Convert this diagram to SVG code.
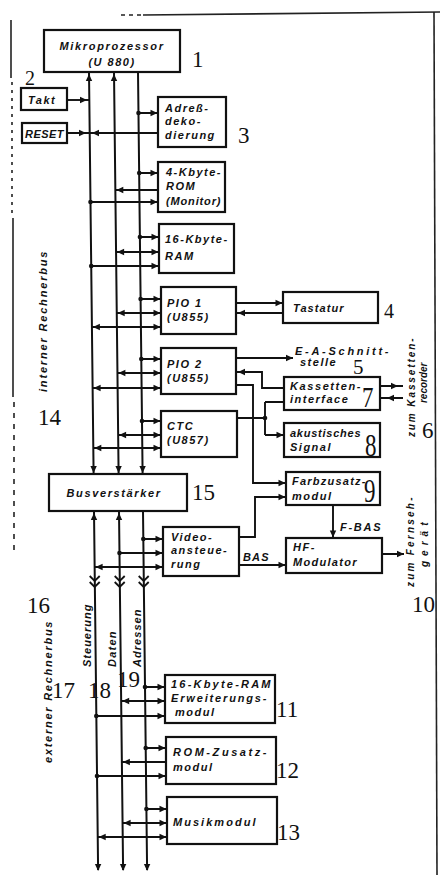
<svg xmlns="http://www.w3.org/2000/svg" width="445" height="875" viewBox="0 0 445 875">
<style>
 .bg{fill:#fff}
 .box{fill:#fff;stroke:#111;stroke-width:2.2}
 .ln{fill:none;stroke:#111;stroke-width:1.9}
 .bus{fill:none;stroke:#111;stroke-width:2}
 .ah{fill:#111}
 .dot{fill:#111}
 .t{font-family:"Liberation Sans",Arial,sans-serif;font-style:italic;font-weight:bold;font-size:11px;letter-spacing:1.5px;fill:#111}
 .s{font-size:10px;letter-spacing:0.5px}
 .n{font-family:"Liberation Serif","Times New Roman",serif;font-size:23px;fill:#111}
 .frame{fill:none;stroke:#222;stroke-width:1.6}
</style>
<defs>
 <path id="a" d="M0,0 L-7,-3.2 L-7,3.2 Z"/>
 <path id="chev" d="M-5,0 L0,5 L5,0 M-5,6 L0,11 L5,6" fill="none" stroke="#111" stroke-width="1.8"/>
</defs>
<rect class="bg" width="445" height="875"/>

<g id="page-frame">
 <path class="frame" d="M121,15 H141" stroke-dasharray="4 4"/>
 <path class="frame" d="M143,15 L440,12"/>
 <path class="frame" d="M434,12 L437,875"/>
 <path class="frame" d="M11,20 V78"/>
 <path class="frame" d="M12,82 V215" stroke-dasharray="3 5"/>
 <path class="frame" d="M13,218 V397"/>
 <path class="frame" d="M14,402 V555" stroke-dasharray="5 6"/>
</g>

<g id="connectors">
 <!-- internal bus -->
 <path class="bus" d="M89,72 L93.6,474 M114,72 L118.6,474 M138,72 L142.6,474"/>
 <!-- external bus -->
 <path class="bus" d="M94,511 L98.1,870 M119,511 L123.1,870 M143,511 L147.1,870"/>
 <use href="#a" class="ah" transform="translate(89,74) rotate(-90)"/>
 <use href="#a" class="ah" transform="translate(114,74) rotate(-90)"/>
 <use href="#a" class="ah" transform="translate(93.6,473) rotate(90)"/>
 <use href="#a" class="ah" transform="translate(118.6,473) rotate(90)"/>
 <use href="#a" class="ah" transform="translate(142.6,473) rotate(90)"/>
 <use href="#a" class="ah" transform="translate(94,513) rotate(-90)"/>
 <use href="#a" class="ah" transform="translate(119,513) rotate(-90)"/>
 <use href="#chev" transform="translate(94.7,576)"/>
 <use href="#chev" transform="translate(119.7,576)"/>
 <use href="#chev" transform="translate(143.7,576)"/>
 <use href="#a" class="ah" transform="translate(98.1,871) rotate(90)"/>
 <use href="#a" class="ah" transform="translate(123.1,871) rotate(90)"/>
 <use href="#a" class="ah" transform="translate(147.1,871) rotate(90)"/>

 <!-- Takt / RESET -->
 <path class="ln" d="M67,100 H89.3"/>
 <use href="#a" class="ah" transform="translate(87,100)"/>
 <path class="ln" d="M67,133 H158"/>
 <use href="#a" class="ah" transform="translate(86,133)"/>
 <use href="#a" class="ah" transform="translate(92,133) rotate(180)"/>

 <!-- bus rows -->
 <path class="ln" d="M138.5,113 H158 M139.2,173 H158 M115.3,190 H158 M90.5,202 H158
  M139.9,237 H159 M116.1,252 H159 M91.2,266 H159
  M140.6,299 H161 M116.7,313 H161 M91.9,327 H161
  M141.3,359 H161 M117.4,373 H161 M92.6,388 H161
  M142,421 H161 M118.1,435 H161 M93.3,448 H161
  M143.3,539 H163 M119.5,553 H163 M94.6,567 H163
  M145,687 H165 M121.2,701 H165 M96.3,716 H165
  M145.7,748 H166 M121.9,762 H166 M97,776 H166
  M146.4,809 H167 M122.6,823 H167 M97.7,837 H167"/>
 <g class="dot">
  <circle cx="138.5" cy="113" r="2.3"/>
  <circle cx="139.2" cy="173" r="2.3"/>
  <circle cx="90.5" cy="202" r="2.3"/>
  <circle cx="139.9" cy="237" r="2.3"/>
  <circle cx="91.2" cy="266" r="2.3"/>
  <circle cx="140.6" cy="299" r="2.3"/>
  <circle cx="141.3" cy="359" r="2.3"/>
  <circle cx="142" cy="421" r="2.3"/>
  <circle cx="143.3" cy="539" r="2.3"/>
  <circle cx="119.5" cy="553" r="2.3"/>
  <circle cx="145" cy="687" r="2.3"/>
  <circle cx="96.3" cy="716" r="2.3"/>
  <circle cx="145.7" cy="748" r="2.3"/>
  <circle cx="97" cy="776" r="2.3"/>
  <circle cx="146.4" cy="809" r="2.3"/>
  <circle cx="265" cy="418" r="2.3"/>
 </g>
 <!-- right-pointing arrows into boxes -->
 <use href="#a" class="ah" transform="translate(157.5,113)"/>
 <use href="#a" class="ah" transform="translate(157.5,173)"/>
 <use href="#a" class="ah" transform="translate(157.5,202)"/>
 <use href="#a" class="ah" transform="translate(158.5,237)"/>
 <use href="#a" class="ah" transform="translate(158.5,252)"/>
 <use href="#a" class="ah" transform="translate(158.5,266)"/>
 <use href="#a" class="ah" transform="translate(160.5,299)"/>
 <use href="#a" class="ah" transform="translate(160.5,313)"/>
 <use href="#a" class="ah" transform="translate(160.5,327)"/>
 <use href="#a" class="ah" transform="translate(160.5,359)"/>
 <use href="#a" class="ah" transform="translate(160.5,373)"/>
 <use href="#a" class="ah" transform="translate(160.5,388)"/>
 <use href="#a" class="ah" transform="translate(160.5,421)"/>
 <use href="#a" class="ah" transform="translate(160.5,435)"/>
 <use href="#a" class="ah" transform="translate(160.5,448)"/>
 <use href="#a" class="ah" transform="translate(162.5,539)"/>
 <use href="#a" class="ah" transform="translate(162.5,553)"/>
 <use href="#a" class="ah" transform="translate(162.5,567)"/>
 <use href="#a" class="ah" transform="translate(164.5,687)"/>
 <use href="#a" class="ah" transform="translate(164.5,701)"/>
 <use href="#a" class="ah" transform="translate(164.5,716)"/>
 <use href="#a" class="ah" transform="translate(165.5,748)"/>
 <use href="#a" class="ah" transform="translate(165.5,776)"/>
 <use href="#a" class="ah" transform="translate(166.5,809)"/>
 <use href="#a" class="ah" transform="translate(166.5,823)"/>
 <use href="#a" class="ah" transform="translate(166.5,837)"/>
 <!-- left-pointing arrows onto bus -->
 <use href="#a" class="ah" transform="translate(116.3,190) rotate(180)"/>
 <use href="#a" class="ah" transform="translate(117.1,252) rotate(180)"/>
 <use href="#a" class="ah" transform="translate(117.7,313) rotate(180)"/>
 <use href="#a" class="ah" transform="translate(92.9,327) rotate(180)"/>
 <use href="#a" class="ah" transform="translate(118.4,373) rotate(180)"/>
 <use href="#a" class="ah" transform="translate(93.6,388) rotate(180)"/>
 <use href="#a" class="ah" transform="translate(119.1,435) rotate(180)"/>
 <use href="#a" class="ah" transform="translate(94.3,448) rotate(180)"/>
 <use href="#a" class="ah" transform="translate(95.6,567) rotate(180)"/>
 <use href="#a" class="ah" transform="translate(122.2,701) rotate(180)"/>
 <use href="#a" class="ah" transform="translate(122.9,762) rotate(180)"/>
 <use href="#a" class="ah" transform="translate(123.6,823) rotate(180)"/>
 <use href="#a" class="ah" transform="translate(98.7,837) rotate(180)"/>

 <!-- right side -->
 <path class="ln" d="M236,303 H283 M236,313 H283 M236,358 H293 M236,372 H262 V388 H284 M236,385 H253 V483 H286
  M237,418 H265 M265,402 V435 M265,402 H284 M265,435 H284
  M380,386 H403 M380,398 H403
  M239,537 H255 V497 H286 M239,565 H286 M333,505 V538 M382,554 H404"/>
 <use href="#a" class="ah" transform="translate(282.5,303)"/>
 <use href="#a" class="ah" transform="translate(238,313) rotate(180)"/>
 <use href="#a" class="ah" transform="translate(293,358)"/>
 <use href="#a" class="ah" transform="translate(238,372) rotate(180)"/>
 <use href="#a" class="ah" transform="translate(285.5,483)"/>
 <use href="#a" class="ah" transform="translate(283.5,435)"/>
 <use href="#a" class="ah" transform="translate(398,386)"/>
 <use href="#a" class="ah" transform="translate(387,398) rotate(180)"/>
 <use href="#a" class="ah" transform="translate(285.5,497)"/>
 <use href="#a" class="ah" transform="translate(285.5,565)"/>
 <use href="#a" class="ah" transform="translate(333,537.5) rotate(90)"/>
 <use href="#a" class="ah" transform="translate(404,554)"/>
 <text class="t" x="243" y="561" textLength="27">BAS</text>
 <text class="t" x="340" y="531" textLength="42">F-BAS</text>
</g>

<g id="node-cpu">
 <rect class="box" x="44" y="30" width="136" height="42"/>
 <text class="t" x="112" y="50" text-anchor="middle" textLength="105">Mikroprozessor</text>
 <text class="t" x="112" y="66" text-anchor="middle">(U 880)</text>
</g>
<g id="node-takt">
 <rect class="box" x="21" y="88" width="46" height="22"/>
 <text class="t" x="28" y="104">Takt</text>
</g>
<g id="node-reset">
 <rect class="box" x="22" y="123" width="45" height="20"/>
 <text class="t" x="25" y="138" textLength="40">RESET</text>
</g>
<g id="node-adressdekodierung">
 <rect class="box" x="158" y="97" width="68" height="50"/>
 <text class="t" x="165" y="112">Adreß-</text>
 <text class="t" x="165" y="125">deko-</text>
 <text class="t" x="165" y="139">dierung</text>
</g>
<g id="node-rom">
 <rect class="box" x="158" y="162" width="67" height="50"/>
 <text class="t" x="166" y="176">4-Kbyte-</text>
 <text class="t" x="166" y="190">ROM</text>
 <text class="t" x="166" y="205" textLength="56">(Monitor)</text>
</g>
<g id="node-ram">
 <rect class="box" x="159" y="224" width="75" height="49"/>
 <text class="t" x="165" y="243">16-Kbyte-</text>
 <text class="t" x="165" y="260">RAM</text>
</g>
<g id="node-pio1">
 <rect class="box" x="161" y="287" width="75" height="47"/>
 <text class="t" x="167" y="307">PIO 1</text>
 <text class="t" x="167" y="321">(U855)</text>
</g>
<g id="node-pio2">
 <rect class="box" x="161" y="348" width="75" height="46"/>
 <text class="t" x="167" y="368">PIO 2</text>
 <text class="t" x="167" y="382">(U855)</text>
</g>
<g id="node-ctc">
 <rect class="box" x="161" y="411" width="76" height="46"/>
 <text class="t" x="167" y="430">CTC</text>
 <text class="t" x="167" y="444">(U857)</text>
</g>
<g id="node-tastatur">
 <rect class="box" x="283" y="292" width="95" height="31"/>
 <text class="t" x="293" y="312" textLength="52">Tastatur</text>
</g>
<g id="node-ea-schnittstelle">
 <text class="t" x="295" y="355" textLength="95">E-A-Schnitt-</text>
 <text class="t" x="300" y="366">stelle</text>
</g>
<g id="node-kassetteninterface">
 <rect class="box" x="284" y="377" width="96" height="33"/>
 <text class="t" x="290" y="390" textLength="72">Kassetten-</text>
 <text class="t" x="290" y="403">interface</text>
</g>
<g id="node-akustisch">
 <rect class="box" x="284" y="423" width="96" height="34"/>
 <text class="t" x="290" y="437" textLength="72">akustisches</text>
 <text class="t" x="290" y="451">Signal</text>
</g>
<g id="node-farbzusatzmodul">
 <rect class="box" x="286" y="472" width="94" height="33"/>
 <text class="t" x="292" y="485" textLength="75">Farbzusatz-</text>
 <text class="t" x="292" y="500">modul</text>
</g>
<g id="node-hf-modulator">
 <rect class="box" x="286" y="538" width="96" height="35"/>
 <text class="t" x="293" y="551">HF-</text>
 <text class="t" x="293" y="566" textLength="65">Modulator</text>
</g>
<g id="node-busverstaerker">
 <rect class="box" x="49" y="474" width="138" height="37"/>
 <text class="t" x="114" y="497" text-anchor="middle" textLength="95">Busverstärker</text>
</g>
<g id="node-videoansteuerung">
 <rect class="box" x="163" y="527" width="76" height="49"/>
 <text class="t" x="171" y="541">Video-</text>
 <text class="t" x="171" y="554">ansteue-</text>
 <text class="t" x="171" y="568">rung</text>
</g>
<g id="node-ram-erweiterung">
 <rect class="box" x="165" y="675" width="110" height="48"/>
 <text class="t" x="171" y="688" textLength="101">16-Kbyte-RAM</text>
 <text class="t" x="171" y="702" textLength="97">Erweiterungs-</text>
 <text class="t" x="175" y="716">modul</text>
</g>
<g id="node-rom-zusatz">
 <rect class="box" x="166" y="737" width="110" height="47"/>
 <text class="t" x="173" y="756" textLength="95">ROM-Zusatz-</text>
 <text class="t" x="173" y="771">modul</text>
</g>
<g id="node-musikmodul">
 <rect class="box" x="167" y="797" width="110" height="47"/>
 <text class="t" x="173" y="826" textLength="84">Musikmodul</text>
</g>
<g id="node-kassettenrecorder">
 <text class="t s" transform="translate(415,437) rotate(-90)" textLength="99">zum Kassetten-</text>
 <text class="t s" transform="translate(427,403) rotate(-90)" textLength="41">recorder</text>
</g>
<g id="node-fernsehgeraet">
 <text class="t s" transform="translate(414,587) rotate(-90)" textLength="90">zum Fernseh-</text>
 <text class="t s" transform="translate(428,567) rotate(-90)" textLength="45">gerät</text>
</g>
<g id="bus-labels">
 <text class="t" transform="translate(47,392) rotate(-90)" textLength="142">interner Rechnerbus</text>
 <text class="t" transform="translate(52,763) rotate(-90)" textLength="143">externer Rechnerbus</text>
 <text class="t" transform="translate(90.5,667) rotate(-90)" textLength="64">Steuerung</text>
 <text class="t" transform="translate(115.5,667) rotate(-90)" textLength="37">Daten</text>
 <text class="t" transform="translate(140.5,667) rotate(-90)" textLength="59">Adressen</text>
</g>
<g id="numbers">
 <text class="n" x="192" y="67">1</text>
 <text class="n" x="25" y="85" style="font-size:20px">2</text>
 <text class="n" x="238" y="143">3</text>
 <text class="n" x="384" y="318" style="font-size:20px">4</text>
 <text class="n" x="353" y="374" style="font-size:21px">5</text>
 <text class="n" x="422" y="438">6</text>
 <text class="n" transform="translate(362,407) scale(1,1.25)">7</text>
 <text class="n" transform="translate(365,456) scale(1,1.4)">8</text>
 <text class="n" transform="translate(364,502) scale(1,1.45)">9</text>
 <text class="n" x="412" y="612">10</text>
 <text class="n" x="276" y="717">11</text>
 <text class="n" x="276" y="778">12</text>
 <text class="n" x="277" y="840">13</text>
 <text class="n" x="38" y="425">14</text>
 <text class="n" x="192" y="500">15</text>
 <text class="n" x="27" y="613">16</text>
 <text class="n" x="52" y="698">17</text>
 <text class="n" x="88" y="698">18</text>
 <text class="n" x="117" y="687">19</text>
</g>
</svg>
